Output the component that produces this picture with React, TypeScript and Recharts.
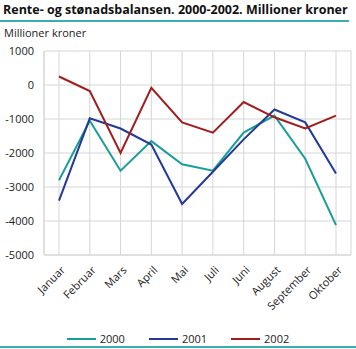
import React from "react";
import { LineChart, Line, XAxis, YAxis, CartesianGrid } from "recharts";

// Rente- og stønadsbalansen, millioner kroner, per måned
const months = ["Januar", "Februar", "Mars", "April", "Mai", "Juli", "Juni", "August", "September", "Oktober"];
const y2000 = [-2800, -1050, -2520, -1650, -2330, -2520, -1400, -900, -2170, -4120];
const y2001 = [-3400, -980, -1280, -1750, -3500, -2550, -1600, -720, -1100, -2600];
const y2002 = [250, -180, -2000, -80, -1100, -1400, -500, -950, -1280, -900];
const yTicks = [1000, 0, -1000, -2000, -3000, -4000, -5000];

const series = [
  { key: "2000", values: y2000, color: "#1a9e9a" },
  { key: "2001", values: y2001, color: "#233a96" },
  { key: "2002", values: y2002, color: "#a11d1d" },
];

const data = months.map((m, i) => ({
  month: m,
  "2000": y2000[i],
  "2001": y2001[i],
  "2002": y2002[i],
}));

const font = "'Open Sans', sans-serif";

function MonthTick(props: any) {
  const { x, y, payload } = props;
  return (
    <text
      x={x + 4}
      y={y + 5}
      transform={`rotate(-45, ${x + 4}, ${y + 5})`}
      textAnchor="end"
      dy={4}
      fontSize={11}
      fill="#222"
      fontFamily={font}
    >
      {payload.value}
    </text>
  );
}

export default function App() {
  return (
    <div style={{ position: "fixed", left: 0, top: 0, width: 356, height: 349, background: "#fff", fontFamily: font }}>
      <div style={{ position: "absolute", left: 3, top: 1, fontSize: 12.5, fontWeight: 700, color: "#111" }}>
        Rente- og stønadsbalansen. 2000-2002. Millioner kroner
      </div>
      <div style={{ position: "absolute", left: 0, top: 20, width: 349, height: 2, background: "#3aafb0" }} />
      <div style={{ position: "absolute", left: 4, top: 25, fontSize: 11, color: "#222" }}>Millioner kroner</div>
      <LineChart width={356} height={349} data={data} margin={{ top: 51, right: 5, bottom: 64, left: 0 }}>
        <CartesianGrid stroke="#d6d6d6" strokeWidth={1} />
        <XAxis
          dataKey="month"
          padding={{ left: 15, right: 15 }}
          axisLine={{ stroke: "#d6d6d6" }}
          tickLine={false}
          interval={0}
          tick={<MonthTick />}
        />
        <YAxis
          width={44}
          domain={[-5000, 1000]}
          ticks={yTicks}
          interval={0}
          axisLine={{ stroke: "#d6d6d6" }}
          tickLine={false}
          tick={{ fontSize: 11, fill: "#222", fontFamily: font }}
          tickMargin={4}
        />
        {series.map((s) => (
          <Line
            key={s.key}
            dataKey={s.key}
            stroke={s.color}
            strokeWidth={2}
            dot={false}
            isAnimationActive={false}
          />
        ))}
      </LineChart>
      <div style={{ position: "absolute", left: 0, top: 331, width: 356, display: "flex", justifyContent: "center", fontSize: 11, color: "#222" }}>
        {series.map((s) => (
          <div key={s.key} style={{ display: "flex", alignItems: "center", margin: "0 12px" }}>
            <div style={{ width: 29, height: 2, background: s.color, marginRight: 4 }} />
            <span>{s.key}</span>
          </div>
        ))}
      </div>
      <div style={{ position: "absolute", left: 0, top: 346, width: 356, height: 2, background: "#3aafb0" }} />
    </div>
  );
}
